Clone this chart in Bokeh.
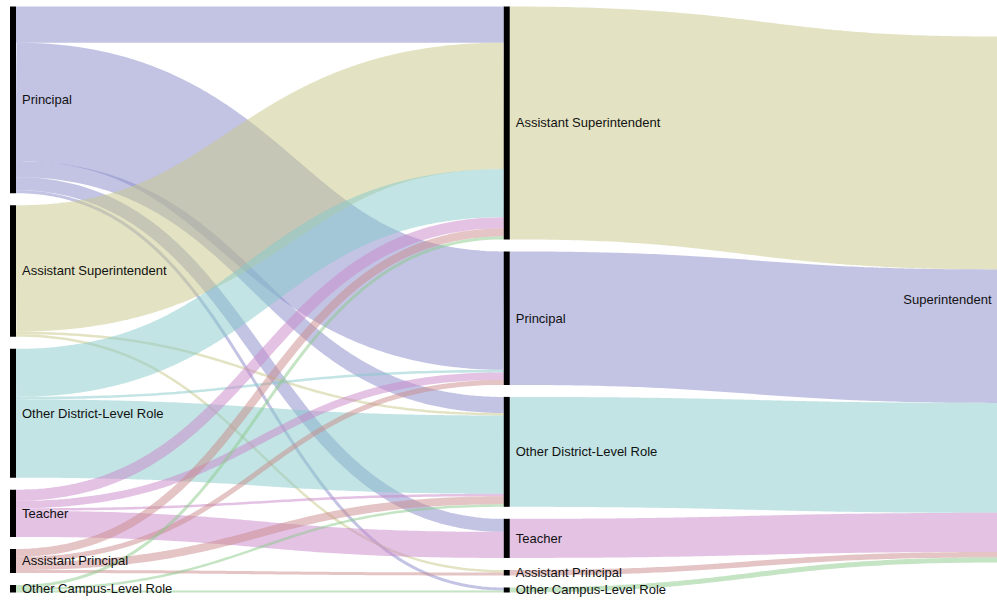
from bokeh.plotting import figure
from bokeh.models import ColumnDataSource, Range1d
from bokeh.embed import file_html
from bokeh.resources import INLINE
from bokeh.core.properties import value
import numpy as np

# ---------------- data ----------------
prev_roles = ["Principal", "Assistant Superintendent", "Other District-Level Role",
              "Teacher", "Assistant Principal", "Other Campus-Level Role"]
current_roles = ["Assistant Superintendent", "Principal", "Other District-Level Role",
                 "Teacher", "Assistant Principal", "Other Campus-Level Role"]
final_role = ["Superintendent"]

# previous role -> role held right before superintendency
flow_source = ["Principal", "Principal", "Principal", "Principal", "Principal",
               "Assistant Superintendent", "Assistant Superintendent", "Assistant Superintendent",
               "Other District-Level Role", "Other District-Level Role", "Other District-Level Role",
               "Teacher", "Teacher", "Teacher", "Teacher",
               "Assistant Principal", "Assistant Principal", "Assistant Principal", "Assistant Principal",
               "Other Campus-Level Role", "Other Campus-Level Role", "Other Campus-Level Role"]
flow_target = ["Assistant Superintendent", "Principal", "Other District-Level Role", "Teacher", "Other Campus-Level Role",
               "Assistant Superintendent", "Other District-Level Role", "Assistant Principal",
               "Assistant Superintendent", "Principal", "Other District-Level Role",
               "Assistant Superintendent", "Principal", "Other District-Level Role", "Teacher",
               "Assistant Superintendent", "Principal", "Other District-Level Role", "Assistant Principal",
               "Assistant Superintendent", "Other District-Level Role", "Other Campus-Level Role"]
flow_value = [36, 118, 16, 13, 3,
              126, 2.5, 2.5,
              48, 2.5, 78,
              11, 7.5, 2.5, 26,
              8, 5, 8, 3,
              3, 2.5, 2]

role_colors = {
    "Principal": "#8789c9",
    "Assistant Superintendent": "#c7c787",
    "Other District-Level Role": "#85c9c9",
    "Teacher": "#c985c9",
    "Assistant Principal": "#c98989",
    "Other Campus-Level Role": "#89c989",
}

# ---------------- sankey layout ----------------
W, H = 997, 600
NODE_W = 6
PAD = 12
X_EXT0, X_EXT1 = 9.5, 1003
Y_EXT0, Y_EXT1 = 6, 592

columns = [["L|" + r for r in prev_roles],
           ["M|" + r for r in current_roles],
           ["R|" + r for r in final_role]]

links = []
for s, t, v in zip(flow_source, flow_target, flow_value):
    links.append({"source": "L|" + s, "target": "M|" + t, "value": v, "color": role_colors[s]})
# every current role leads to superintendent
for r in current_roles:
    v = sum(val for t, val in zip(flow_target, flow_value) if t == r)
    links.append({"source": "M|" + r, "target": "R|" + final_role[0], "value": v, "color": role_colors[r]})

nodes = {}
for ci, col in enumerate(columns):
    for nid in col:
        vin = sum(l["value"] for l in links if l["target"] == nid)
        vout = sum(l["value"] for l in links if l["source"] == nid)
        nodes[nid] = {"value": max(vin, vout), "col": ci}

HH = Y_EXT1 - Y_EXT0
kx = (X_EXT1 - X_EXT0 - NODE_W) / (len(columns) - 1)
ky = min((HH - (len(col) - 1) * PAD) / sum(nodes[n]["value"] for n in col) for col in columns)

for ci, col in enumerate(columns):
    total = sum(nodes[n]["value"] for n in col) * ky + (len(col) - 1) * PAD
    y = Y_EXT0 + (HH - total) / 2
    for nid in col:
        nd = nodes[nid]
        nd["x0"] = X_EXT0 + ci * kx
        nd["x1"] = nd["x0"] + NODE_W
        nd["y0"] = y
        nd["y1"] = y + nd["value"] * ky
        y = nd["y1"] + PAD

# link offsets at both ends
for nid, nd in nodes.items():
    outs = sorted([l for l in links if l["source"] == nid], key=lambda l: nodes[l["target"]]["y0"])
    y = nd["y0"]
    for l in outs:
        w = l["value"] * ky
        l["ys"] = y + w / 2
        y += w
    ins = sorted([l for l in links if l["target"] == nid], key=lambda l: nodes[l["source"]]["y0"])
    y = nd["y0"]
    for l in ins:
        w = l["value"] * ky
        l["yt"] = y + w / 2
        y += w

xs, ys, widths, colors = [], [], [], []
t = np.linspace(0, 1, 100)
for l in links:
    x0 = nodes[l["source"]]["x1"]
    x1 = nodes[l["target"]]["x0"]
    xm = (x0 + x1) / 2
    y0, y1 = l["ys"], l["yt"]
    bx = (1 - t) ** 3 * x0 + 3 * (1 - t) ** 2 * t * xm + 3 * (1 - t) * t ** 2 * xm + t ** 3 * x1
    by = (1 - t) ** 3 * y0 + 3 * (1 - t) ** 2 * t * y0 + 3 * (1 - t) * t ** 2 * y1 + t ** 3 * y1
    xs.append(list(bx))
    ys.append(list(by))
    widths.append(l["value"] * ky)
    colors.append(l["color"])

link_src = ColumnDataSource(dict(xs=xs, ys=ys, w=widths, c=colors))

node_ids = [n for col in columns for n in col]
node_src = ColumnDataSource(dict(
    left=[nodes[n]["x0"] for n in node_ids],
    right=[nodes[n]["x1"] for n in node_ids],
    top=[nodes[n]["y0"] for n in node_ids],
    bottom=[nodes[n]["y1"] for n in node_ids],
))

lab_l = [n for n in node_ids if nodes[n]["col"] < 2]
lab_r = [n for n in node_ids if nodes[n]["col"] == 2]
lab_left_src = ColumnDataSource(dict(
    x=[nodes[n]["x1"] + 6 for n in lab_l],
    y=[(nodes[n]["y0"] + nodes[n]["y1"]) / 2 for n in lab_l],
    text=[n.split("|")[1] for n in lab_l]))
lab_right_src = ColumnDataSource(dict(
    x=[nodes[n]["x0"] - 6 for n in lab_r],
    y=[(nodes[n]["y0"] + nodes[n]["y1"]) / 2 for n in lab_r],
    text=[n.split("|")[1] for n in lab_r]))

# ---------------- figure ----------------
p = figure(width=W, height=H, x_range=Range1d(0, W), y_range=Range1d(H, 0),
           output_backend="svg", toolbar_location=None, min_border=0)
p.axis.visible = False
p.grid.visible = False
p.outline_line_color = None
p.background_fill_color = "white"
p.border_fill_color = "white"

p.multi_line(xs="xs", ys="ys", line_width="w", line_color="c", line_alpha=0.5, source=link_src)
p.quad(left="left", right="right", top="top", bottom="bottom", fill_color="black",
       line_color=None, source=node_src)

p.text(x="x", y="y", text="text", source=lab_left_src, text_font=value("Liberation Sans"),
       text_font_size="13px", text_baseline="middle", text_align="left", text_color="#111111")
p.text(x="x", y="y", text="text", source=lab_right_src, text_font=value("Liberation Sans"),
       text_font_size="13px", text_baseline="middle", text_align="right", text_color="#111111")

open("out.html", "w").write(file_html(p, INLINE))
